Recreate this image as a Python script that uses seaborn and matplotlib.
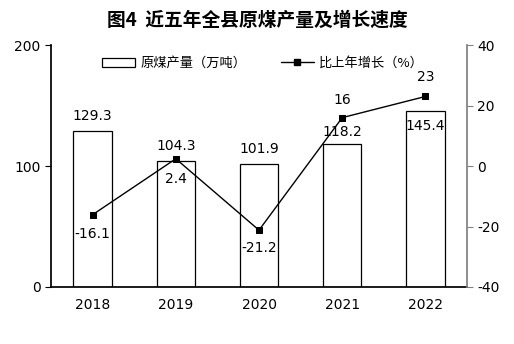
import matplotlib
matplotlib.use("Agg")
import matplotlib.pyplot as plt
import seaborn as sns
import pandas as pd
from matplotlib.lines import Line2D
from matplotlib.patches import Patch

years = ["2018", "2019", "2020", "2021", "2022"]
output = [129.3, 104.3, 101.9, 118.2, 145.4]
growth = [-16.1, 2.4, -21.2, 16, 23]

sns.set_theme(style="white")
plt.rcParams["font.family"] = ["DejaVu Sans", "Noto Sans CJK SC"]
plt.rcParams["axes.unicode_minus"] = False
plt.rcParams["text.color"] = "black"
plt.rcParams["xtick.color"] = "black"
plt.rcParams["ytick.color"] = "black"

df = pd.DataFrame({"year": years, "output": output, "growth": growth})

fig = plt.figure(figsize=(5.14, 3.44), dpi=100)
ax = fig.add_axes([0.0992, 0.1657, 0.8094, 0.7033])

sns.barplot(data=df, x="year", y="output", ax=ax, color="white",
            edgecolor="black", linewidth=0.9, width=0.46, saturation=1)
ax.set_ylim(0, 200)
ax.set_yticks([0, 100, 200])
ax.set_xlim(-0.5, 4.5)
ax.set_xlabel("")
ax.set_ylabel("")
ax.spines["top"].set_visible(False)
ax.spines["right"].set_visible(False)
ax.spines["left"].set_color("black")
ax.spines["bottom"].set_color("black")
ax.tick_params(axis="y", length=4, width=0.8, colors="black", labelsize=10, left=True, direction="out")
ax.tick_params(axis="x", length=0, labelsize=10, pad=8, labelcolor="black")

ax2 = ax.twinx()
sns.lineplot(data=df, x="year", y="growth", ax=ax2, color="black",
             marker="s", markersize=5, linewidth=1.0, markeredgecolor="black")
ax2.set_ylim(-40, 40)
ax2.set_yticks([-40, -20, 0, 20, 40])
ax2.set_ylabel("")
for s in ["top", "left", "bottom"]:
    ax2.spines[s].set_visible(False)
ax2.spines["right"].set_color("#808080")
ax2.tick_params(axis="y", length=4, width=0.8, colors="#808080", labelcolor="black",
                labelsize=10, right=True, direction="out")

# bar value labels (pixel offsets from the bar top)
bar_offsets = [15, 15, 15, 12, -15]
for i, v in enumerate(output):
    ax.annotate(f"{v}", (i, v), xytext=(0, bar_offsets[i]), textcoords="offset pixels",
                ha="center", va="center", fontsize=10, color="black")

# growth labels
growth_offsets = [-19, -20, -18, 18, 19]
for i, g in enumerate(growth):
    ax2.annotate(f"{g:g}", (i, g), xytext=(0, growth_offsets[i]), textcoords="offset pixels",
                 ha="center", va="center", fontsize=10, color="black")

handles = [Patch(facecolor="white", edgecolor="black", linewidth=0.9),
           Line2D([], [], color="black", marker="s", markersize=5, linewidth=1.0)]
leg = ax.legend(handles, ["原煤产量（万吨）", "比上年增长（%）"], loc="upper center",
                bbox_to_anchor=(0.51, 1.0), ncol=2, frameon=False, fontsize=9.5,
                handlelength=2.5, columnspacing=2.6, handletextpad=0.4)
for t in leg.get_texts():
    t.set_family(["Noto Sans CJK SC", "DejaVu Sans"])
    t.set_color("black")

fig.text(0.5, 0.94, "图4  近五年全县原煤产量及增长速度", ha="center", va="center",
         fontsize=13.5, fontweight="bold", color="black",
         family=["Noto Sans CJK SC", "DejaVu Sans"])

fig.savefig("out.png", dpi=100)
